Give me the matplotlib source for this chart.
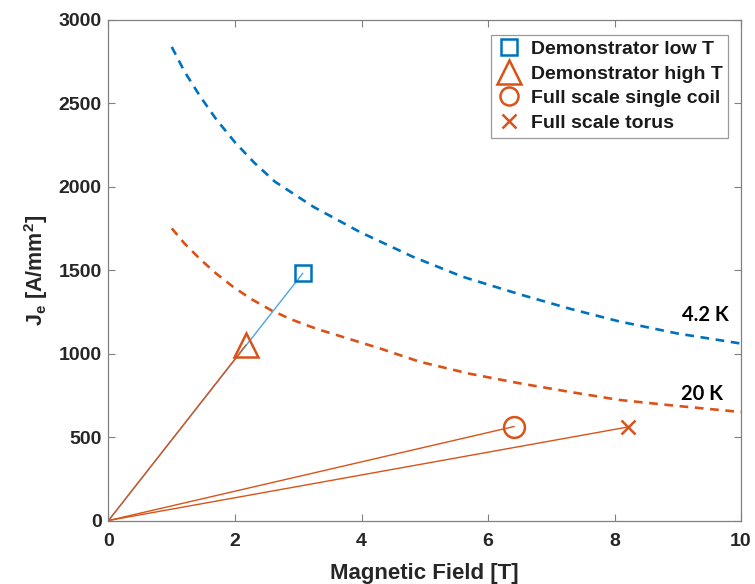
import matplotlib
matplotlib.use('Agg')
import matplotlib.pyplot as plt

# critical current curves
field_42k = [1.0, 1.2, 1.45, 1.7, 2.0, 2.3, 2.63, 3.24, 3.97, 4.81, 5.6, 6.5, 7.3, 8.08, 9.0, 10.0]
je_42k = [2837, 2690, 2540, 2405, 2265, 2145, 2030, 1879, 1729, 1580, 1460, 1355, 1268, 1192, 1120, 1060]
field_20k = [1.0, 1.2, 1.45, 1.7, 1.97, 2.25, 2.58, 2.9, 3.29, 4.29, 4.92, 5.7, 6.5, 7.3, 8.08, 9.0, 10.0]
je_20k = [1750, 1660, 1565, 1480, 1400, 1328, 1258, 1203, 1148, 1031, 951, 880, 822, 770, 722, 686, 650]

# operating points
names = ['Demonstrator low T', 'Demonstrator high T', 'Full scale single coil', 'Full scale torus']
op_field = [3.07, 2.17, 6.41, 8.21]
op_je = [1480, 1050, 563, 560]
markers = ['s', '^', 'o', 'x']
msizes = [11, 17, 15, 10]
leg_sizes = [11, 17, 13, 10]

BLUE = '#0072BD'
ORANGE = '#D95319'
op_colors = [BLUE, ORANGE, ORANGE, ORANGE]
line_colors = ['#4DA6DF', ORANGE, ORANGE, ORANGE]

plt.rcParams['font.family'] = ['Liberation Sans', 'DejaVu Sans']
plt.rcParams['mathtext.fontset'] = 'custom'
plt.rcParams['mathtext.rm'] = 'Liberation Sans:bold'
plt.rcParams['mathtext.bf'] = 'Liberation Sans:bold'
plt.rcParams['mathtext.default'] = 'bf'

fig = plt.figure(figsize=(7.55, 5.84), dpi=100)
ax = fig.add_axes([0.1437, 0.1087, 0.9815 - 0.1437, 0.9663 - 0.1087])

ax.plot(field_42k, je_42k, color=BLUE, lw=1.9, dashes=(3.3, 2.5))
ax.plot(field_20k, je_20k, color=ORANGE, lw=1.9, dashes=(3.3, 2.5))

for b, j, c in zip(op_field, op_je, line_colors):
    ax.plot([0, b], [0, j], color=c, lw=1.0)

for b, j, m, s, c, n in zip(op_field, op_je, markers, msizes, op_colors, names):
    ax.plot([b], [j], linestyle='none', marker=m, ms=s, mfc='none', mec=c,
            mew=1.8, label=n)

ax.text(9.8, 1230, '4.2 K', family=['Lato', 'DejaVu Sans'], fontweight='bold',
        fontsize=14.5, ha='right', va='center', color='black')
ax.text(9.72, 755, '20 K', family=['Lato', 'DejaVu Sans'], fontweight='bold',
        fontsize=14.5, ha='right', va='center', color='black')

ax.set_xlim(0, 10)
ax.set_ylim(0, 3000)
ax.set_xticks([0, 2, 4, 6, 8, 10])
ax.set_yticks([0, 500, 1000, 1500, 2000, 2500, 3000])
ax.tick_params(direction='in', top=True, right=True, length=5, width=0.8,
               colors='#808080', labelcolor='#262626', labelsize=14, pad=5)
ax.tick_params(axis='x', pad=9)
for lab in ax.get_xticklabels() + ax.get_yticklabels():
    lab.set_fontweight('bold')
for sp in ax.spines.values():
    sp.set_color('#808080')
    sp.set_linewidth(0.9)

ax.set_xlabel('Magnetic Field [T]', fontsize=16, fontweight='bold', color='#262626', labelpad=9)
ax.set_ylabel(r'J$_{e}$ [A/mm$^{2}$]', fontsize=15.5, fontweight='bold', color='#262626', labelpad=6)

leg = ax.legend(loc='upper right', bbox_to_anchor=(0.986, 0.978),
                prop={'weight': 'bold', 'size': 14}, fancybox=False,
                edgecolor='#808080', handlelength=1.3, handletextpad=0.45,
                borderpad=0.3, labelspacing=0.36, borderaxespad=0.2)
leg.get_frame().set_linewidth(0.9)
for t in leg.get_texts():
    t.set_color('#1a1a1a')
for h, s in zip(leg.legend_handles, leg_sizes):
    h.set_markersize(s)

fig.savefig('out.png', dpi=100)
